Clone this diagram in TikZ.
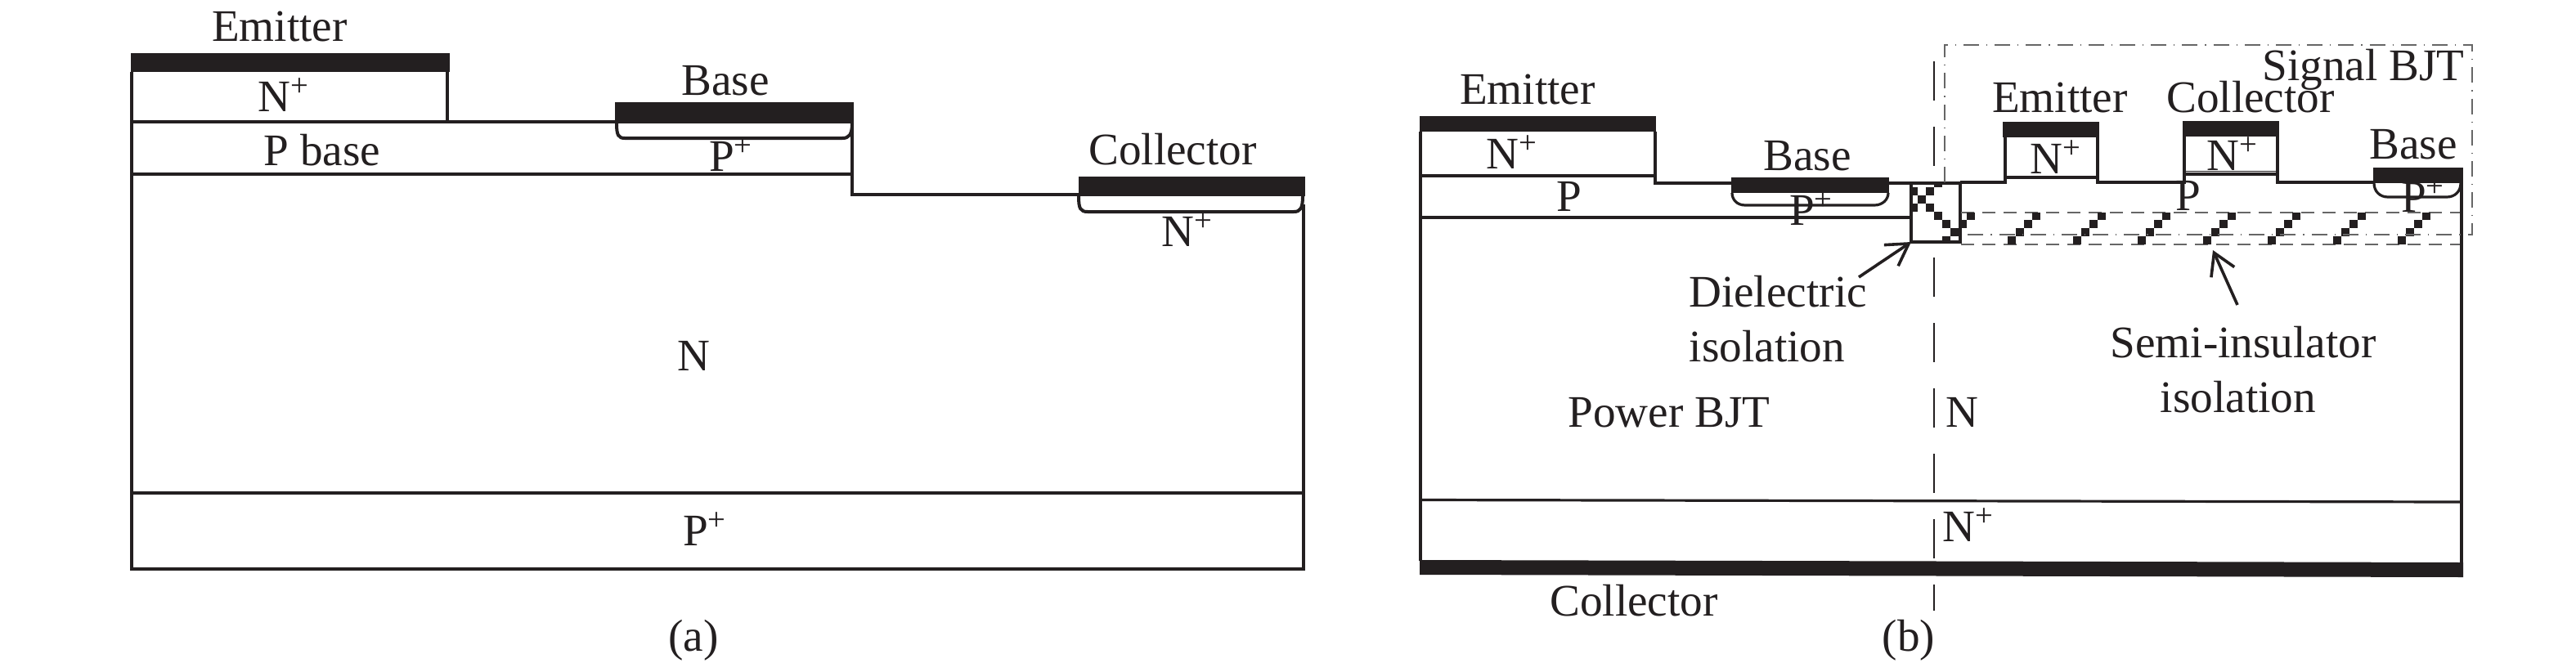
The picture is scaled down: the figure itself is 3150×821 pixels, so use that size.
\documentclass[tikz,border=0pt]{standalone}
\usepackage{fontspec}
\setmainfont{Liberation Serif}
\usetikzlibrary{arrows.meta}
\definecolor{ink}{HTML}{231F20}
\newcommand{\Np}{N\textsuperscript{+}}
\newcommand{\Pp}{P\textsuperscript{+}}
\tikzset{
  lbl/.style={inner sep=0pt,anchor=base,text=ink,font=\fontsize{27.6}{32}\selectfont},
  wall/.style={draw=ink,line width=2pt,line join=miter},
  thinwall/.style={draw=ink,line width=1.6pt,line join=miter},
  metal/.style={fill=ink,draw=none},
  cell/.style={fill=ink,draw=none},
  cutline/.style={draw=ink,line width=1.1pt,dash pattern=on 24pt off 16pt},
  regionline/.style={draw=black!60,line width=.55pt,dash pattern=on 8pt off 5pt},
  boxline/.style={draw=black!60,line width=.55pt,dash pattern=on 9.5pt off 4.5pt on .6pt off 4.5pt},
  pointer/.style={draw=ink,line width=1.8pt,-{Straight Barb[length=13pt,width=15.5pt]}}
}
\begin{document}
\begin{tikzpicture}[x=0.5pt,y=-0.5pt]
\path[use as bounding box,fill=white] (0,0) rectangle (3150,821);
% ---------- panel (a)
\draw[wall] (161,88) -- (161,696) -- (1594,696) -- (1594,250);
\draw[wall] (547,88) -- (547,151);
\draw[wall] (161,149) -- (752,149);
\draw[wall] (161,213) -- (1042,213);
\draw[wall] (1042,151) -- (1042,238) -- (1319,238);
\draw[wall] (161,603) -- (1594,603);
\draw[wall] (754,151) .. controls (754,165) and (756,169) .. (764,169) -- (1030,169) .. controls (1038,169) and (1042,165) .. (1042,151);
\draw[wall] (1319,240) .. controls (1319,255) and (1321,259) .. (1330,259) -- (1582,259) .. controls (1590,259) and (1593,255) .. (1593,240);
\fill[metal] (160,65) rectangle (550,88);
\fill[metal] (752,125) rectangle (1044,151);
\fill[metal] (1319,216) rectangle (1596,240);
\node[lbl] (aE) at (342,50) {Emitter};
\node[lbl] (aN1) at (347,136) {\Np};
\node[lbl] (aPb) at (394,202) {P base};
\node[lbl] (aB) at (887,116) {Base};
\node[lbl] (aP1) at (894,209) {\Pp};
\node[lbl] (aC) at (1434,201) {Collector};
\node[lbl] (aN2) at (1452,301) {\Np};
\node[lbl] (aN) at (848,453) {N};
\node[lbl] (aP2) at (862,667) {\Pp};
\node[lbl] (acap) at (848,796) {(a)};
% ---------- panel (b)
\draw[cutline] (2365,75) -- (2365,747);
\draw[thinwall] (1737,161) -- (1737,686);
\draw[thinwall] (3010,224) -- (3010,688);
\draw[thinwall] (1737,215) -- (2024,215);
\draw[thinwall] (2024,161) -- (2024,226);
\draw[thinwall] (2024,224) -- (2117,224);
\draw[thinwall] (2310,224) -- (2337,224);
\draw[thinwall] (1737,266) -- (2337,266);
\draw[thinwall] (1737,611.5) -- (3010,614);
\draw[thinwall] (2118,236) .. controls (2118,244) and (2124,251) .. (2134,251) -- (2292,251) .. controls (2302,251) and (2309,244) .. (2309,236);
% signal device outlines
\draw[thinwall] (2397,223) -- (2452,223) -- (2452,168);
\draw[thinwall] (2452,217) -- (2565,217);
\draw[thinwall] (2565,168) -- (2565,223) -- (2671,223) -- (2671,167);
\draw[thinwall] (2671,213) -- (2785,213);
\draw[draw=ink,line width=.6pt] (2671,209.5) -- (2785,209.5);
\draw[thinwall] (2785,167) -- (2785,223) -- (2902,223);
\draw[thinwall] (2903,224) .. controls (2903,234) and (2910,241) .. (2920,241) -- (2992,241) .. controls (3002,241) and (3009,234) .. (3009,224);
% dielectric block
\fill[white] (2337,224) rectangle (2397,296);
\foreach \cx/\cy/\cw/\ch in {2365/224/10/5,2337/229/8/10,2355/229/10/10,2345/239/10/10,2337/249/8/10,2355/249/10/10,2365/259/10/10,2375/269/10/10,2385/279/10/10,2375/289/10/7}
  \fill[cell] (\cx,\cy) rectangle ++(\cw,\ch);
\draw[thinwall,fill=none] (2337,224) rectangle (2397,296);
% semi-insulator band
\draw[regionline] (2398,260) -- (3008,260);
\draw[regionline] (2398,299) -- (3008,299);
\foreach \k in {1,...,7}{
  \pgfmathsetmacro{\hx}{2375.5+79.5*\k}
  \fill[cell] (\hx,289) rectangle ++(10,10);
  \fill[cell] (\hx+10,279) rectangle ++(10,10);
  \fill[cell] (\hx+20,269) rectangle ++(10,10);
  \fill[cell] (\hx+30,260) rectangle ++(10,9);
}
\fill[cell] (2398,269) rectangle (2405,279);
\fill[cell] (2405,260) rectangle (2415,269);
% signal BJT box
\draw[boxline] (2378,223) -- (2378,55) -- (3023,55) -- (3023,287) -- (2398,287);
% metal
\fill[metal] (1736,142) rectangle (2025,161);
\fill[metal] (2117,217) rectangle (2310,236);
\fill[metal] (2449,149) rectangle (2567,168);
\fill[metal] (2669,148) rectangle (2787,167);
\fill[metal] (2902,205) rectangle (3012,224);
\fill[metal] (1736,685) -- (3012,688) -- (3012,706) -- (1736,703) -- cycle;
% labels
\node[lbl] (bE) at (1868,127) {Emitter};
\node[lbl] (bN1) at (1849,206) {\Np};
\node[lbl] (bP) at (1919,258) {P};
\node[lbl] (bB) at (2210,208) {Base};
\node[lbl] (bP1) at (2215,275) {\Pp};
\node[lbl] (sE) at (2519,137) {Emitter};
\node[lbl] (sN1) at (2514,212) {\Np};
\node[lbl] (sC) at (2752,137) {Collector};
\node[lbl] (sN2) at (2730,208) {\Np};
\node[lbl] (sP) at (2676,257) {P};
\node[lbl] (sT) at (2890,98) {Signal BJT};
\node[lbl] (sB) at (2951,194) {Base};
\node[lbl] (sP1) at (2963,259) {\Pp};
\node[lbl] (d1) at (2174,375) {Dielectric};
\node[lbl] (d2) at (2161,442) {isolation};
\node[lbl] (i1) at (2743,437) {Semi-insulator};
\node[lbl] (i2) at (2737,504) {isolation};
\node[lbl] (bN) at (2399,522) {N};
\node[lbl] (pw) at (2041,522) {Power BJT};
\node[lbl] (bN2) at (2407,662) {\Np};
\node[lbl] (bC) at (1998,753) {Collector};
\node[lbl] (bcap) at (2334,796) {(b)};
% pointers
\coordinate (dtip) at (2337,296);
\coordinate (itip) at (2706,306);
\coordinate (dtail) at (2273,339);
\coordinate (itail) at (2736,373);
\draw[pointer] (dtail) -- (dtip);
\draw[pointer] (itail) -- (itip);
\end{tikzpicture}
\end{document}
